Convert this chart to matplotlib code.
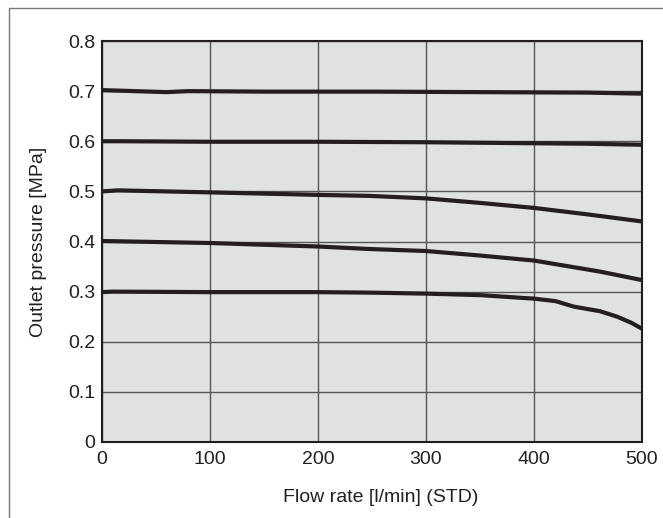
import matplotlib
matplotlib.use('Agg')
import matplotlib.pyplot as plt
from matplotlib.patches import Rectangle

# flow rate [l/min] and outlet pressure [MPa] for each set pressure
flow_07 = [0, 30, 60, 80, 150, 250, 350, 450, 500]
p_07 = [0.702, 0.700, 0.698, 0.700, 0.699, 0.699, 0.698, 0.697, 0.695]

flow_06 = [0, 20, 100, 200, 300, 400, 450, 500]
p_06 = [0.600, 0.600, 0.599, 0.599, 0.598, 0.596, 0.595, 0.593]

flow_05 = [0, 15, 100, 200, 248, 300, 350, 400, 450, 500]
p_05 = [0.500, 0.502, 0.498, 0.493, 0.491, 0.486, 0.477, 0.467, 0.454, 0.440]

flow_04 = [0, 100, 200, 248, 300, 350, 400, 461, 500]
p_04 = [0.401, 0.397, 0.390, 0.385, 0.381, 0.372, 0.362, 0.340, 0.323]

flow_03 = [0, 10, 100, 200, 248, 300, 350, 400, 420, 437, 461, 477, 490, 500]
p_03 = [0.299, 0.300, 0.299, 0.299, 0.298, 0.296, 0.293, 0.286, 0.281, 0.270, 0.261, 0.250, 0.238, 0.226]

curves = [(flow_07, p_07), (flow_06, p_06), (flow_05, p_05), (flow_04, p_04), (flow_03, p_03)]

x_ticks = [0, 100, 200, 300, 400, 500]
y_ticks = [0, 0.1, 0.2, 0.3, 0.4, 0.5, 0.6, 0.7, 0.8]
y_tick_labels = ['0', '0.1', '0.2', '0.3', '0.4', '0.5', '0.6', '0.7', '0.8']

plt.rcParams['font.family'] = ['Liberation Sans', 'DejaVu Sans']

fig = plt.figure(figsize=(6.63, 5.18), dpi=100)
ax = fig.add_axes([102/663, 76/518, 540/663, 401/518])
ax.set_facecolor('#e0e1e3')

for fx, py in curves:
    ax.plot(fx, py, color='#231f20', lw=3.0, solid_capstyle='butt', zorder=3)

ax.set_xlim(0, 500)
ax.set_ylim(0, 0.8)
ax.set_xticks(x_ticks)
ax.set_yticks(y_ticks)
ax.set_yticklabels(y_tick_labels)
ax.grid(True, color='#555555', lw=1.0, zorder=1)
ax.set_axisbelow(True)
ax.tick_params(length=0, labelsize=14, colors='#231f20')
ax.tick_params(axis='x', pad=6.5)
ax.tick_params(axis='y', pad=5)
for s in ax.spines.values():
    s.set_color('#231f20')
    s.set_linewidth(1.5)

ax.set_xlabel('Flow rate [l/min] (STD)', fontsize=14, color='#231f20')
ax.xaxis.set_label_coords(0.517, -0.118)
ax.set_ylabel('Outlet pressure [MPa]', fontsize=14, color='#231f20', labelpad=15)

# outer frame (only top and left edges fall inside the picture)
fig.patches.append(Rectangle((9/663, -0.1), 1.0, (510/518) + 0.1,
                             transform=fig.transFigure, fill=False,
                             edgecolor='#777777', lw=1.0))

fig.savefig('out.png', dpi=100)
